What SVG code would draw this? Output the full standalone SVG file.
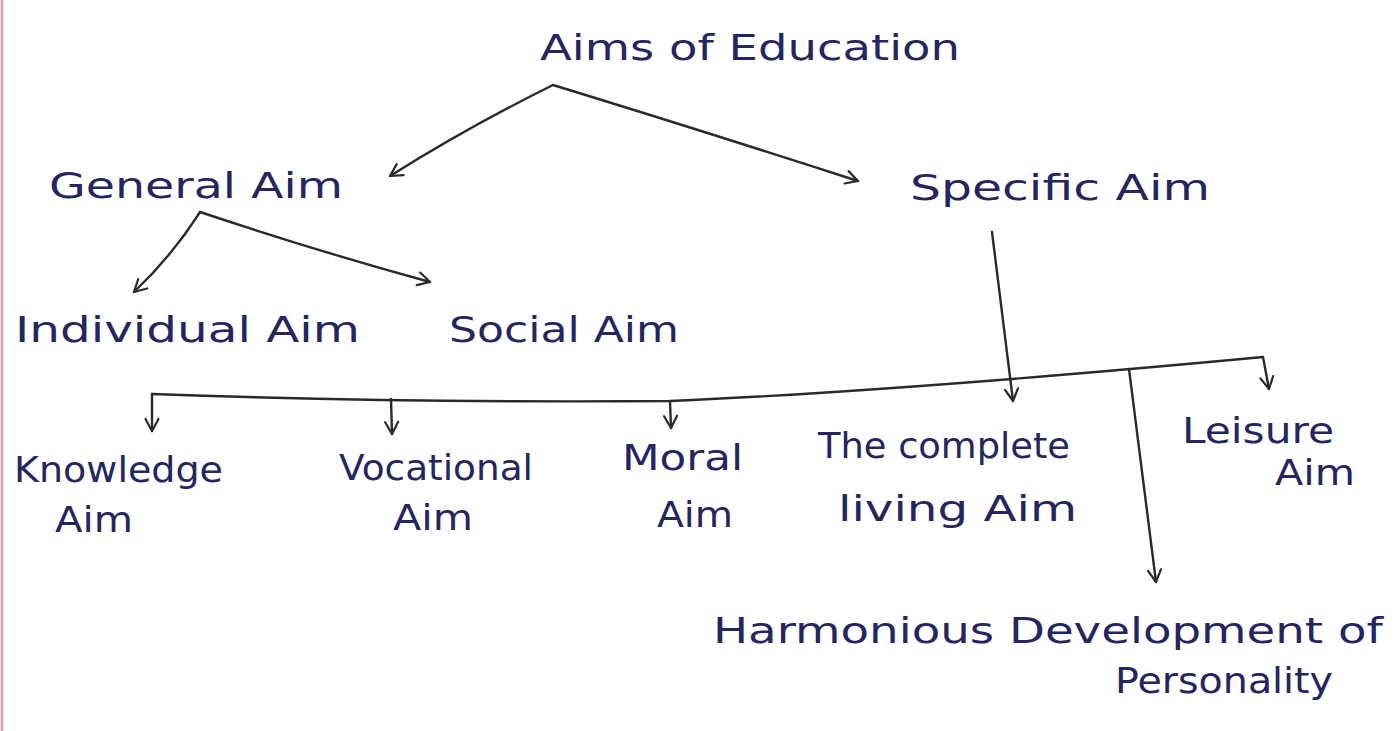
<svg xmlns="http://www.w3.org/2000/svg" width="1399" height="731" viewBox="0 0 1399 731">
<style>
.t{font-family:"DejaVu Sans","Liberation Sans",sans-serif;font-size:36px;fill:#25265f;lengthAdjust:spacing}
.c{fill:none;stroke:#2a2a2e;stroke-width:2.4;stroke-linecap:round;stroke-linejoin:round}
.a{marker-end:url(#ah)}
</style>
<defs>
<marker id="ah" viewBox="0 0 16 16" refX="14" refY="8" markerWidth="16" markerHeight="16" markerUnits="userSpaceOnUse" orient="auto">
<path d="M2,1.5 L14,8 L2,14.5" fill="none" stroke="#2a2a2e" stroke-width="2.2" stroke-linecap="round" stroke-linejoin="round"/>
</marker>
</defs>
<rect width="1399" height="731" fill="#ffffff"/>
<line x1="2" y1="0" x2="2" y2="731" stroke="#ef9a9a" stroke-width="2.5"/>
<g id="connectors">
<path class="c a" d="M553,85 Q470,126 390,176"/>
<path class="c a" d="M553,85 Q700,130 858,181"/>
<path class="c a" d="M200,212 Q172,256 134,292"/>
<path class="c a" d="M200,212 Q320,252 430,282"/>
<path class="c a" d="M992,232 L1013,401"/>
<path class="c a" d="M152,394 Q400,403 670,401 Q900,391 1263,357 L1269,389"/>
<path class="c a" d="M152,394 L152,431"/>
<path class="c a" d="M391,399 L392,434"/>
<path class="c a" d="M670,401 L671,428"/>
<path class="c a" d="M1129,369 L1156,582"/>
</g>
<g id="n-aims"><text class="t" x="540" y="60" font-size="38" textLength="420" lengthAdjust="spacingAndGlyphs">Aims of Education</text></g>
<g id="n-general"><text class="t" x="49" y="198" textLength="294" lengthAdjust="spacingAndGlyphs">General Aim</text></g>
<g id="n-specific"><text class="t" x="910" y="200" textLength="300" lengthAdjust="spacingAndGlyphs">Specific Aim</text></g>
<g id="n-individual"><text class="t" x="15" y="342" textLength="345" lengthAdjust="spacingAndGlyphs">Individual Aim</text></g>
<g id="n-social"><text class="t" x="449" y="342" textLength="230" lengthAdjust="spacingAndGlyphs">Social Aim</text></g>
<g id="n-knowledge"><text class="t" x="14" y="482" textLength="209" lengthAdjust="spacingAndGlyphs">Knowledge</text><text class="t" x="55" y="532" textLength="78" lengthAdjust="spacingAndGlyphs">Aim</text></g>
<g id="n-vocational"><text class="t" x="339" y="480" textLength="194" lengthAdjust="spacingAndGlyphs">Vocational</text><text class="t" x="393" y="530" textLength="80" lengthAdjust="spacingAndGlyphs">Aim</text></g>
<g id="n-moral"><text class="t" x="622" y="470" textLength="121" lengthAdjust="spacingAndGlyphs">Moral</text><text class="t" x="657" y="527" textLength="76" lengthAdjust="spacingAndGlyphs">Aim</text></g>
<g id="n-complete"><text class="t" x="818" y="458" textLength="252" lengthAdjust="spacingAndGlyphs">The complete</text><text class="t" x="838" y="521" textLength="239" lengthAdjust="spacingAndGlyphs">living Aim</text></g>
<g id="n-leisure"><text class="t" x="1182" y="443" textLength="152" lengthAdjust="spacingAndGlyphs">Leisure</text><text class="t" x="1275" y="485" textLength="80" lengthAdjust="spacingAndGlyphs">Aim</text></g>
<g id="n-harmonious"><text class="t" x="713" y="643" textLength="670" lengthAdjust="spacingAndGlyphs">Harmonious Development of</text><text class="t" x="1115" y="693" textLength="218" lengthAdjust="spacingAndGlyphs">Personality</text></g>
</svg>
